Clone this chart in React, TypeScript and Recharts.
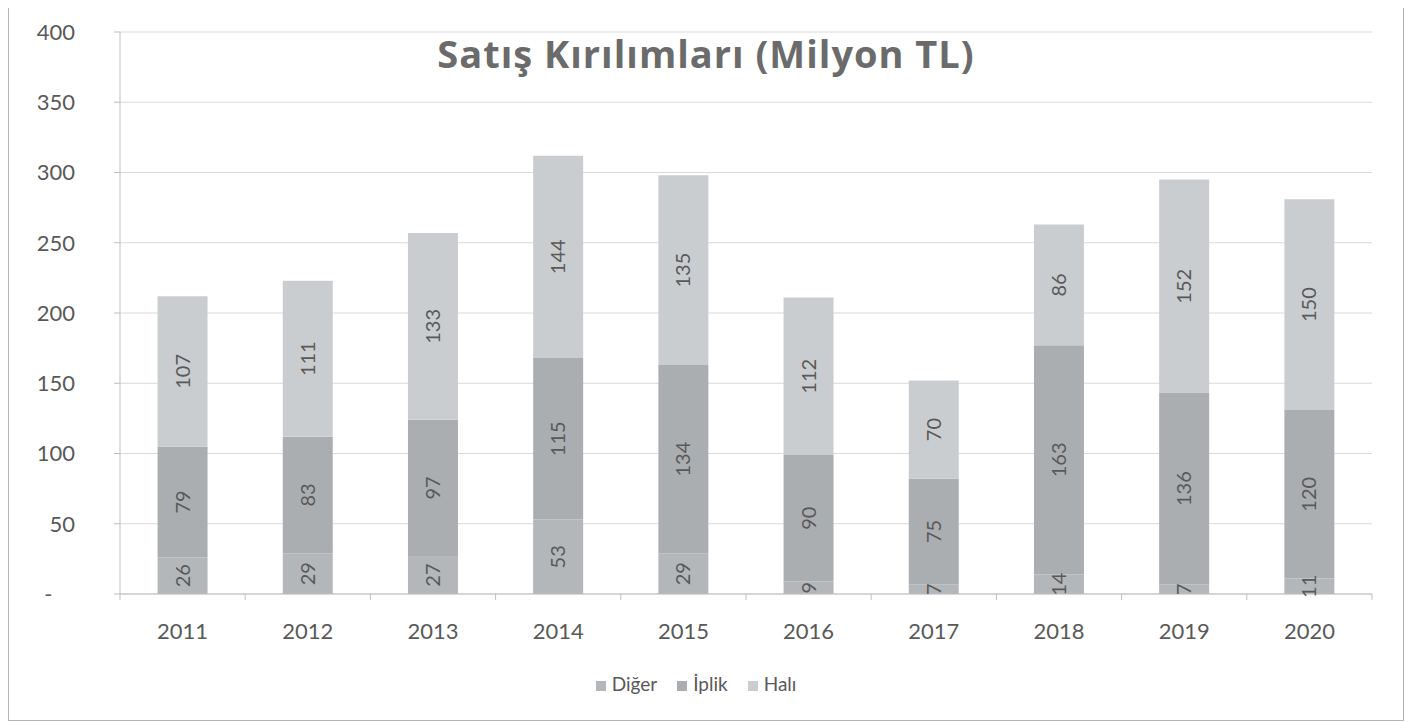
import React from "react";
import { BarChart, Bar, XAxis, YAxis, CartesianGrid, Legend, LabelList } from "recharts";

const years = ["2011", "2012", "2013", "2014", "2015", "2016", "2017", "2018", "2019", "2020"];
const diger = [26, 29, 27, 53, 29, 9, 7, 14, 7, 11];
const iplik = [79, 83, 97, 115, 134, 90, 75, 163, 136, 120];
const hali = [107, 111, 133, 144, 135, 112, 70, 86, 152, 150];
const yTicks = [0, 50, 100, 150, 200, 250, 300, 350, 400];
const seriesOrder = ["diger", "iplik", "hali"];

const data = years.map((y, i) => ({ year: y, diger: diger[i], iplik: iplik[i], hali: hali[i] }));

const W = 1394;
const H = 714;
const M = { top: 26, right: 31, bottom: 66, left: 0 };
const YW = 111;
const HALF_BAND = (W - M.left - M.right - YW) / years.length / 2;
const FONT = "Lato, 'Open Sans', sans-serif";
const TXT = "#595959";
const AX = "#bfbfbf";

const XTick = (props: any) => {
  const { x, y, payload, index } = props;
  return (
    <g>
      <line x1={x - HALF_BAND} y1={y} x2={x - HALF_BAND} y2={y + 6} stroke={AX} />
      {index === years.length - 1 && (
        <line x1={x + HALF_BAND} y1={y} x2={x + HALF_BAND} y2={y + 6} stroke={AX} />
      )}
      <text x={x} y={y + 37} dy="0.36em" textAnchor="middle" fill={TXT} fontSize={22} fontFamily={FONT}>
        {payload.value}
      </text>
    </g>
  );
};

const labelStyle = { fill: TXT, fontSize: 20, fontFamily: FONT };

export default function App() {
  return (
    <div
      style={{
        position: "relative",
        marginTop: -3,
        width: W,
        height: H,
        border: "1px solid #b5b5b5",
        background: "#fff",
      }}
    >
      <BarChart width={W} height={H} data={data} margin={M} barCategoryGap="30%">
        <CartesianGrid vertical={false} stroke="#d9d9d9" />
        <XAxis
          dataKey="year"
          height={60}
          axisLine={{ stroke: AX }}
          tickLine={false}
          tickSize={0}
          tickMargin={0}
          interval={0}
          tick={<XTick />}
        />
        <YAxis
          width={YW}
          domain={[0, 400]}
          ticks={yTicks}
          interval={0}
          tickSize={6}
          tickMargin={39}
          axisLine={{ stroke: AX }}
          tickLine={{ stroke: AX }}
          tick={{ fill: TXT, fontSize: 22, fontFamily: FONT }}
          tickFormatter={(v: number) => (v === 0 ? "-\u00a0\u00a0\u00a0\u00a0" : String(v))}
        />
        <Legend
          layout="horizontal"
          verticalAlign="middle"
          align="center"
          iconType="square"
          iconSize={10}
          itemSorter={(item: any) => seriesOrder.indexOf(item.dataKey)}
          wrapperStyle={{ top: 666, left: 0, width: W, fontFamily: FONT, fontSize: 19 }}
          formatter={(v: string) => <span style={{ color: TXT, marginRight: 10, marginLeft: 2 }}>{v}</span>}
        />
        <Bar dataKey="diger" name="Diğer" stackId="a" fill="#b4b7ba" isAnimationActive={false}>
          <LabelList dataKey="diger" position="center" angle={-90} style={labelStyle} />
        </Bar>
        <Bar dataKey="iplik" name="İplik" stackId="a" fill="#abaeb1" isAnimationActive={false}>
          <LabelList dataKey="iplik" position="center" angle={-90} style={labelStyle} />
        </Bar>
        <Bar dataKey="hali" name="Halı" stackId="a" fill="#cacdcf" isAnimationActive={false}>
          <LabelList dataKey="hali" position="center" angle={-90} style={labelStyle} />
        </Bar>
      </BarChart>
      <div
        style={{
          position: "absolute",
          top: 25,
          left: 0,
          width: W,
          textAlign: "center",
          fontFamily: "'Open Sans', Lato, sans-serif",
          fontWeight: 700,
          fontSize: 38,
          letterSpacing: 1,
          lineHeight: "44px",
          color: "#6b6b6b",
          pointerEvents: "none",
        }}
      >
        Satış Kırılımları (Milyon TL)
      </div>
    </div>
  );
}
